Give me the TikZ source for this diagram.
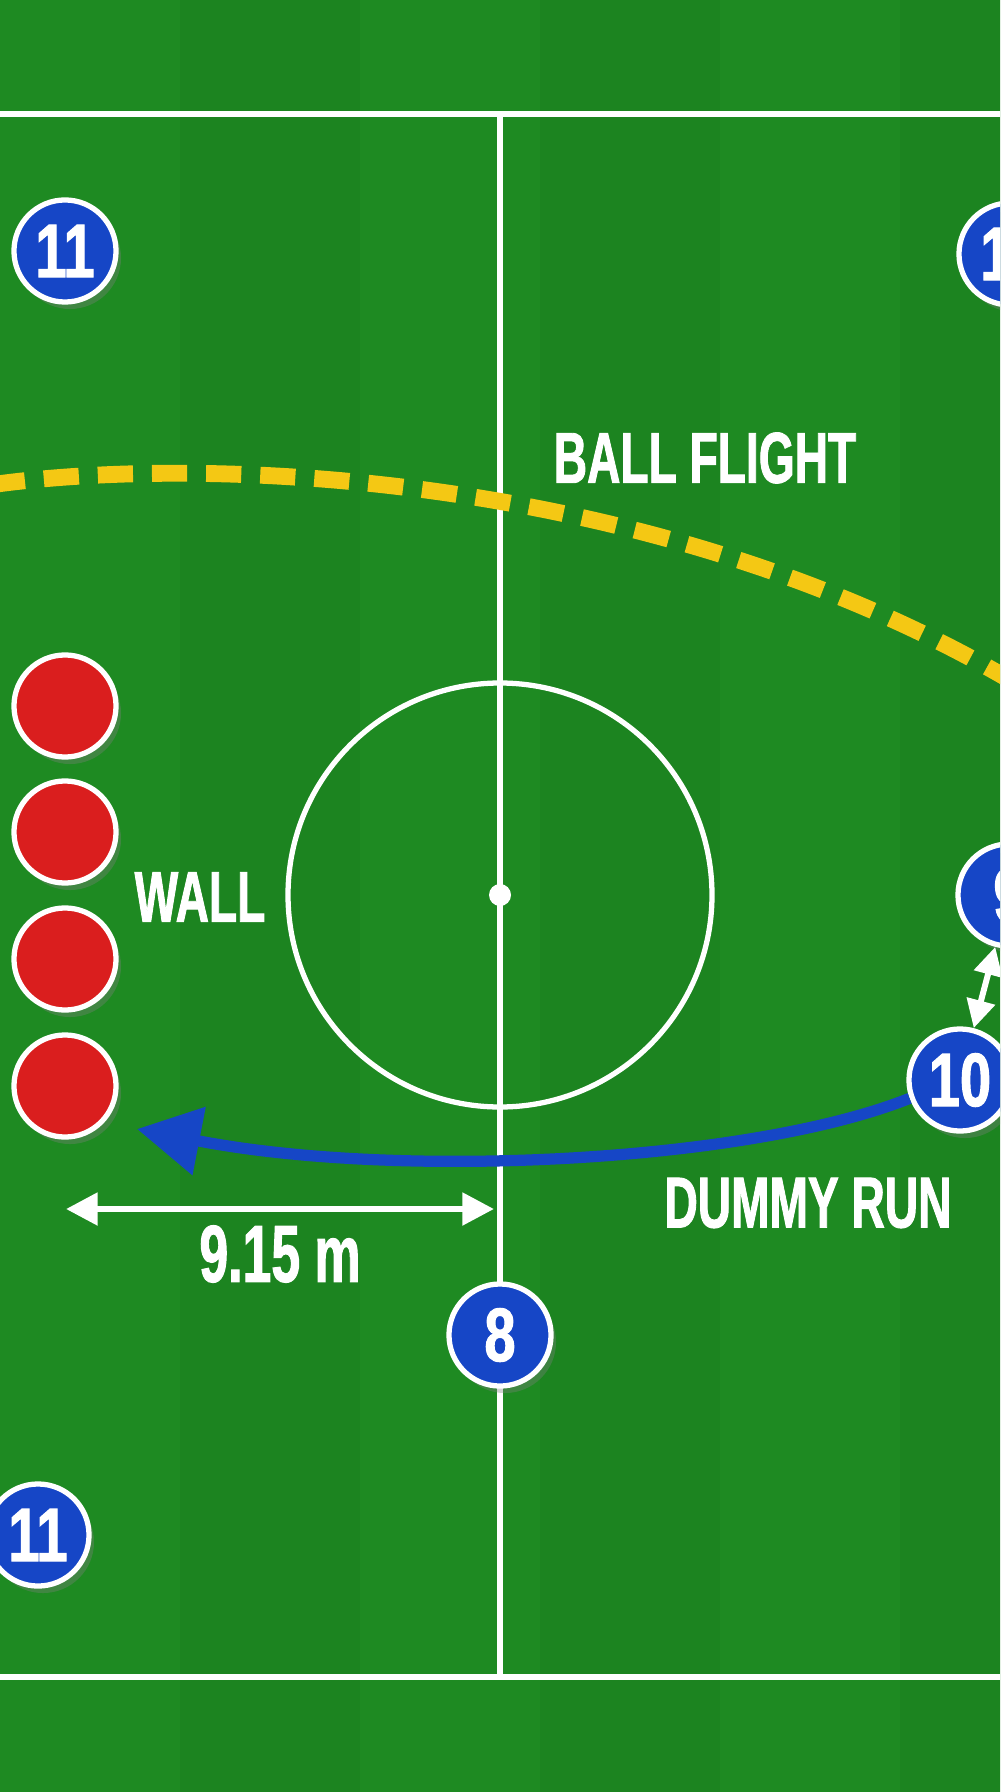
\documentclass[tikz,border=0pt]{standalone}
\usepackage{fontspec}
\newfontfamily\pitchfont[FakeStretch=0.64,FakeBold=1.2,UprightFont={* Bold},BoldFont={* Bold}]{Liberation Sans}
\newfontfamily\shirtfont[FakeStretch=0.74,FakeBold=1.4,UprightFont={* Bold},BoldFont={* Bold}]{Liberation Sans}
\usetikzlibrary{arrows.meta,shadows}
\definecolor{turf}{HTML}{1E8A22}
\definecolor{turfdark}{HTML}{1C8420}
\definecolor{kit}{HTML}{1646C6}
\definecolor{wallred}{HTML}{DA1E1E}
\definecolor{flight}{HTML}{F4C814}

\begin{document}
\begin{tikzpicture}[x=0.01cm,y=-0.01cm,
	chalk/.style={draw=white,line width=1.5pt},
	player/.style={circle,fill=kit,draw=white,line width=1.5pt,minimum size=1.02cm,inner sep=0pt,
		text=white,font=\shirtfont\fontsize{21.5}{24}\selectfont,
		drop shadow={opacity=0.35,shadow xshift=0.5mm,shadow yshift=-0.7mm}},
	brick/.style={player,fill=wallred},
	caption/.style={text=white,font=\pitchfont\fontsize{20.5}{24}\selectfont,inner sep=0pt},
	run/.style={draw=kit,line width=3.2pt,-{Triangle[length=18pt,width=19pt]}},
	measure/.style={draw=white,line width=1.8pt,{Triangle[length=9pt,width=9pt]}-{Triangle[length=9pt,width=9pt]}},
	ballpath/.style={draw=flight,line width=4.8pt,dash pattern=on 10pt off 5.4pt}]
	\clip (0,0) rectangle (1000,1792);
	\fill[turf] (0,0) rectangle (1000,1792);
	% mown stripes
	\foreach \s in {180,540,900}
	\fill[turfdark] (\s,0) rectangle (\s+180,1792);
	% markings
	\draw[chalk] (0,114) -- (1000,114);
	\draw[chalk] (0,1677) -- (1000,1677);
	\draw[chalk] (500,114) -- (500,1677);
	\draw[chalk] (500,895) circle (212);
	\fill[white] (500,895) circle (11);
	% ball flight
	\coordinate (kick) at (-10,485);
	\coordinate (drop) at (1010,680);
	\draw[ballpath] (kick) .. controls (200,455) and (650,470) .. (drop);
	% wall
	\foreach \i/\y in {1/706,2/832,3/959,4/1086}
	\node[brick] (wall\i) at (65,\y) {};
	% players
	\node[player] (lefttop) at (65,251) {11};
	\node[player] (righttop) at (1010,254) {11};
	\node[player] (nine) at (1009,895) {9};
	\node[player] (ten) at (960,1080) {10};
	\node[player] (eight) at (500,1335) {8};
	\node[player] (leftlow) at (38,1535) {11};
	% runs and distance
	\coordinate (runend) at (137,1129);
	\draw[run] (ten.200) .. controls (750,1162) and (400,1180) .. (runend);
	\draw[draw=white,line width=1.7pt,{Triangle[length=8pt,width=8pt]}-{Triangle[length=8pt,width=8pt]}] (nine) -- (ten);
	\coordinate (gapleft) at (66,1209);
	\coordinate (gapright) at (494,1209);
	\draw[measure] (gapleft) -- (gapright);
	% labels
	\node[caption] (flightlbl) at (705,458) {BALL FLIGHT};
	\node[caption] (walllbl) at (200,897) {WALL};
	\node[caption] (runlbl) at (808,1203) {DUMMY RUN};
	\node[caption,font=\pitchfont\fontsize{23}{26}\selectfont] (gaplbl) at (280,1254) {9.15 m};
\end{tikzpicture}
\end{document}
